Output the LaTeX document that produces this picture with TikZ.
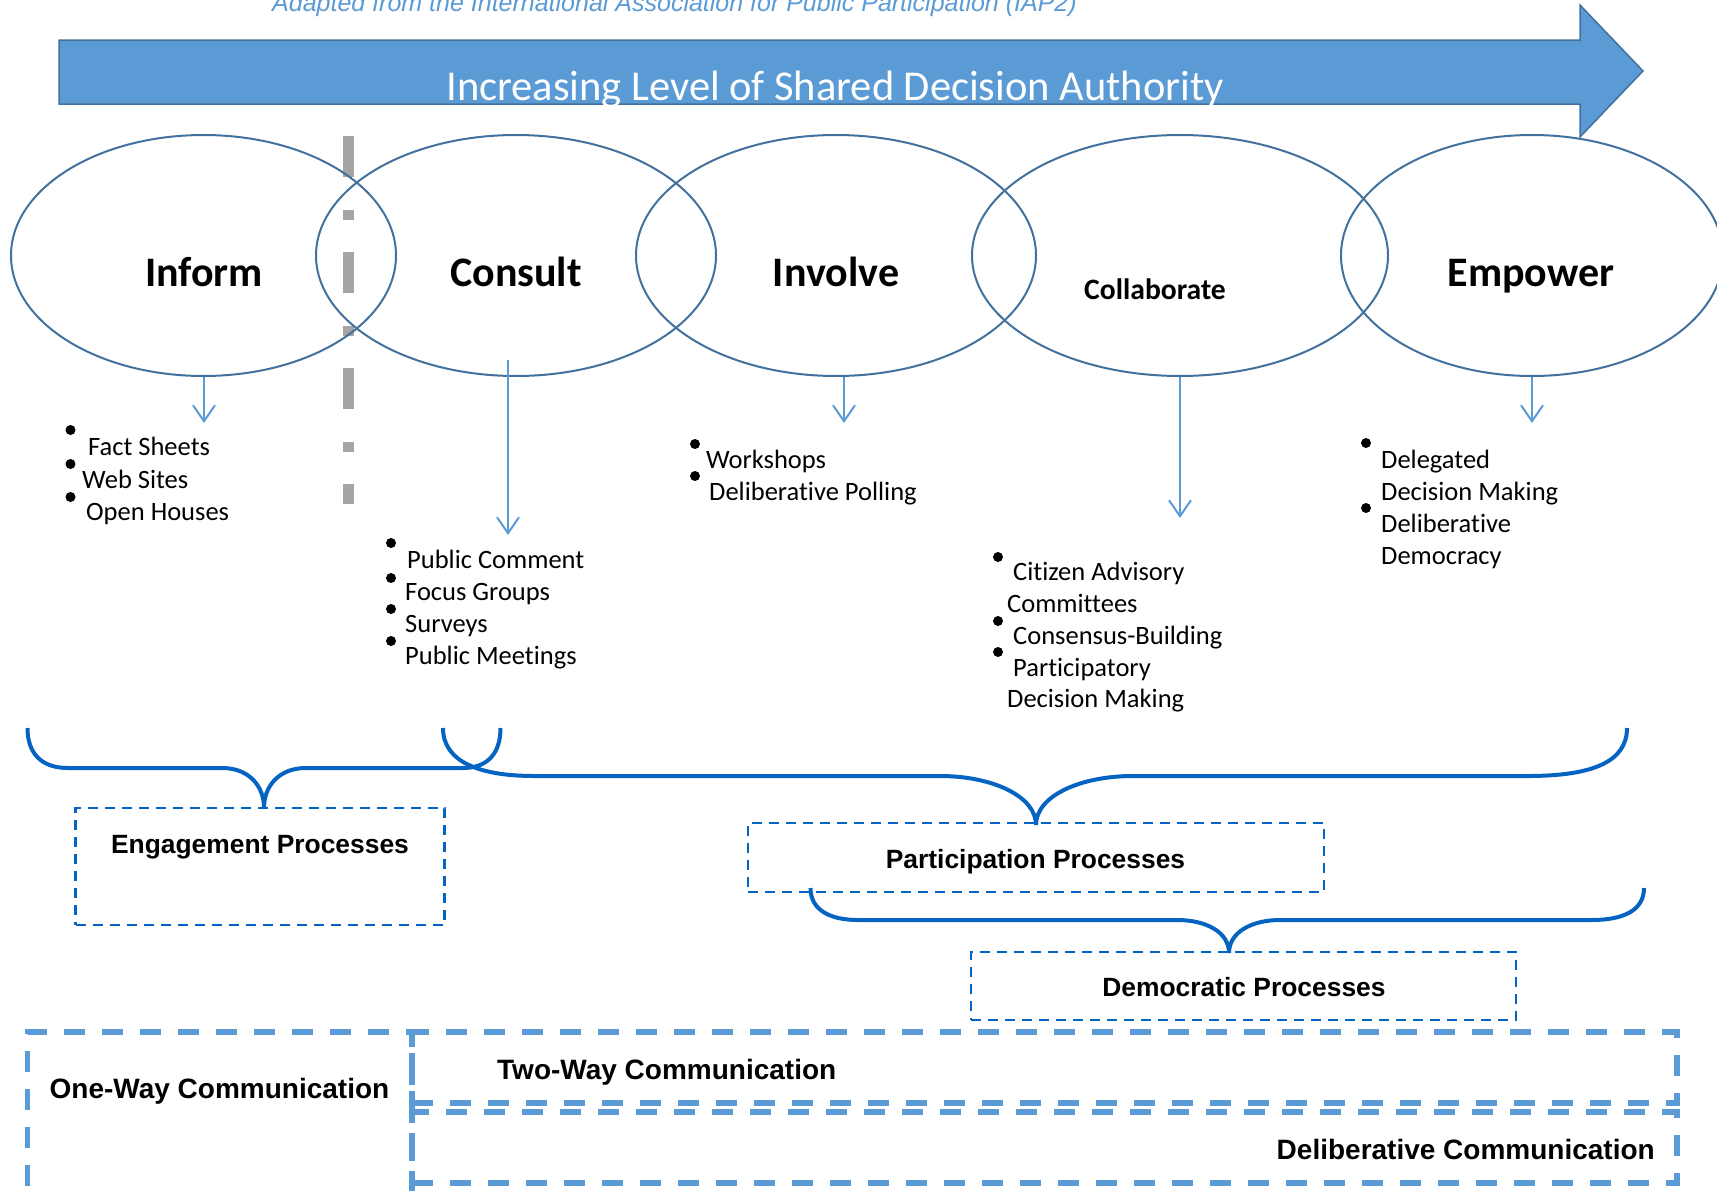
\documentclass[tikz,border=0pt]{standalone}
\usepackage{fontspec}
\setmainfont{Carlito}[Ligatures=NoCommon]
\newfontfamily\arialf{Liberation Sans}
\usetikzlibrary{arrows.meta,shapes.geometric}
\definecolor{arrowblue}{HTML}{5B9BD5}
\definecolor{edgeblue}{HTML}{41719C}
\definecolor{braceblue}{HTML}{0563C1}
\definecolor{greyline}{HTML}{A5A5A5}
\begin{document}
\begin{tikzpicture}[x=1pt,y=-1pt,
  stage/.style={ellipse, draw=edgeblue, line width=2pt, inner sep=0pt, minimum width=#1, minimum height=241pt},
  stagelabel/.style={anchor=base, inner sep=0pt, font=\fontsize{42}{42}\selectfont\bfseries},
  itemtext/.style={anchor=base west, inner sep=0pt, font=\fontsize{26.5}{26.5}\selectfont},
  bulletdot/.style={circle, fill=black, inner sep=0pt, minimum size=10pt},
  downarrow/.style={draw=arrowblue, line width=2pt, -{Straight Barb[length=16pt,width=22pt,line width=2pt]}},
  bracepath/.style={draw=braceblue, line width=4pt},
  procbox/.style={draw=braceblue, line width=2.5pt, dash pattern=on 10pt off 7pt, inner sep=0pt},
  proclabel/.style={anchor=base, inner sep=0pt, font=\arialf\bfseries\fontsize{26.4}{26.4}\selectfont},
  commbox/.style={draw=arrowblue, line width=5.5pt, dash pattern=on 21pt off 17pt, inner sep=0pt},
  commlabel/.style={inner sep=0pt, font=\arialf\bfseries\fontsize{28}{28}\selectfont}]
\useasboundingbox (0,0) rectangle (1717,1191);
\clip (0,0) rectangle (1717,1191);

% caption
\node[anchor=base west, inner sep=0pt, text=arrowblue, font=\arialf\itshape\fontsize{25}{25}\selectfont] (caption) at (272,12) {Adapted from the International Association for Public Participation (IAP2)};

% big arrow
\draw[fill=arrowblue, draw=edgeblue, line width=1.5pt] (59,40) -- (1580,40) -- (1580,5) -- (1643,71) -- (1580,137) -- (1580,104) -- (59,104) -- cycle;
\node[anchor=base, inner sep=0pt, text=white, font=\fontsize{42.5}{42.5}\selectfont] (authority) at (835,100) {Increasing Level of Shared Decision Authority};

% grey divider
\draw[greyline, line width=11pt, dash pattern=on 41pt off 33pt on 10pt off 32pt] (348.5,136) -- (348.5,504);

% stages
\node[stage=385pt] (inform) at (203.5,255.5) {};
\node[stage=400pt] (consult) at (516,255.5) {};
\node[stage=400pt] (involve) at (836,255.5) {};
\node[stage=416pt] (collab) at (1180,255.5) {};
\node[stage=382pt] (empower) at (1532,255.5) {};

\node[stagelabel] (informlbl) at (204,286) {Inform};
\node[stagelabel] (consultlbl) at (516,286) {Consult};
\node[stagelabel] (involvelbl) at (836,286) {Involve};
\node[stagelabel, font=\fontsize{29.6}{29.6}\selectfont\bfseries] (collablbl) at (1155,299) {Collaborate};
\node[stagelabel] (empowerlbl) at (1531,286) {Empower};

% arrows down
\coordinate (informtip) at (204,423);
\coordinate (consulttop) at (508,360);
\coordinate (consulttip) at (508,535);
\coordinate (involvetip) at (844,423);
\coordinate (collabtip) at (1180,518);
\coordinate (empowertip) at (1532,423);
\draw[downarrow] (inform.south -| informtip) -- (informtip);
\draw[downarrow] (consulttop) -- (consulttip);
\draw[downarrow] (involve.south -| involvetip) -- (involvetip);
\draw[downarrow] (collab.south) -- (collabtip);
\draw[downarrow] (empower.south) -- (empowertip);

% Inform list
\node[bulletdot] (b11) at (70.5,430) {};
\node[bulletdot] (b12) at (70.5,464) {};
\node[bulletdot] (b13) at (70.5,497) {};
\node[itemtext] (t11) at (88,455) {Fact Sheets};
\node[itemtext] (t12) at (82,488) {Web Sites};
\node[itemtext] (t13) at (86,520) {Open Houses};

% Consult list
\node[bulletdot] (b21) at (391,543) {};
\node[bulletdot] (b22) at (391,578) {};
\node[bulletdot] (b23) at (391,609) {};
\node[bulletdot] (b24) at (391,641) {};
\node[itemtext] (t21) at (407,568) {Public Comment};
\node[itemtext] (t22) at (405,600) {Focus Groups};
\node[itemtext] (t23) at (405,632) {Surveys};
\node[itemtext] (t24) at (405,664) {Public Meetings};

% Involve list
\node[bulletdot] (b31) at (695,444) {};
\node[bulletdot] (b32) at (695,476) {};
\node[itemtext] (t31) at (706,468) {Workshops};
\node[itemtext] (t32) at (709,500) {Deliberative Polling};

% Collaborate list
\node[bulletdot] (b41) at (998,557) {};
\node[bulletdot] (b42) at (998,621) {};
\node[bulletdot] (b43) at (998,652) {};
\node[itemtext] (t41) at (1013,580) {Citizen Advisory};
\node[itemtext] (t42) at (1007,612) {Committees};
\node[itemtext] (t43) at (1013,644) {Consensus-Building};
\node[itemtext] (t44) at (1013,676) {Participatory};
\node[itemtext] (t45) at (1007,707) {Decision Making};

% Empower list
\node[bulletdot] (b51) at (1366,443) {};
\node[bulletdot] (b52) at (1366,508) {};
\node[itemtext] (t51) at (1381,468) {Delegated};
\node[itemtext] (t52) at (1381,500) {Decision Making};
\node[itemtext] (t53) at (1381,532) {Deliberative};
\node[itemtext] (t54) at (1381,564) {Democracy};

% process boxes
\node[procbox, minimum width=369pt, minimum height=117pt] (engbox) at (260,866.5) {};
\node[proclabel] (englbl) at (260,853) {Engagement Processes};
\node[procbox, minimum width=576pt, minimum height=69pt] (partbox) at (1036,857.5) {};
\node[proclabel] (partlbl) at (1035.5,868) {Participation Processes};
\node[procbox, minimum width=545pt, minimum height=68pt] (dembox) at (1243.5,986) {};
\node[proclabel] (demlbl) at (1244,996) {Democratic Processes};

% braces
\draw[bracepath] (27.5,728) .. controls (27.5,754) and (42,768) .. (68,768) -- (222,768) .. controls (249,768) and (264,786) .. (264,808) .. controls (264,786) and (279,768) .. (306,768) -- (463,768) .. controls (487,768) and (500.5,754) .. (500.5,728);
\draw[bracepath] (443,728) .. controls (443,762) and (480,776) .. (534,776) -- (940,776) .. controls (992,776) and (1036,796) .. (1036,825) .. controls (1036,796) and (1080,776) .. (1133,776) -- (1528,776) .. controls (1592,776) and (1627,762) .. (1627,728);
\draw[bracepath] (810.5,888) .. controls (810.5,910) and (830,920) .. (858,920) -- (1177,920) .. controls (1206,920) and (1229,932) .. (1229,953) .. controls (1229,932) and (1252,920) .. (1280,920) -- (1592,920) .. controls (1624,920) and (1644,910) .. (1644,888);

% communication boxes
\node[commbox, minimum width=384.5pt, minimum height=200pt] (onebox) at (219.75,1132) {};
\node[commbox, minimum width=1265pt, minimum height=71pt] (twobox) at (1044.5,1067.5) {};
\node[commbox, minimum width=1265pt, minimum height=71pt] (delbox) at (1044.5,1147.5) {};
\node[commlabel, anchor=base] (onelbl) at (219.5,1098) {One-Way Communication};
\node[commlabel, anchor=base west] (twolbl) at (497,1079) {Two-Way Communication};
\node[commlabel, anchor=base east] (dellbl) at (1655,1159) {Deliberative Communication};
\end{tikzpicture}
\end{document}
